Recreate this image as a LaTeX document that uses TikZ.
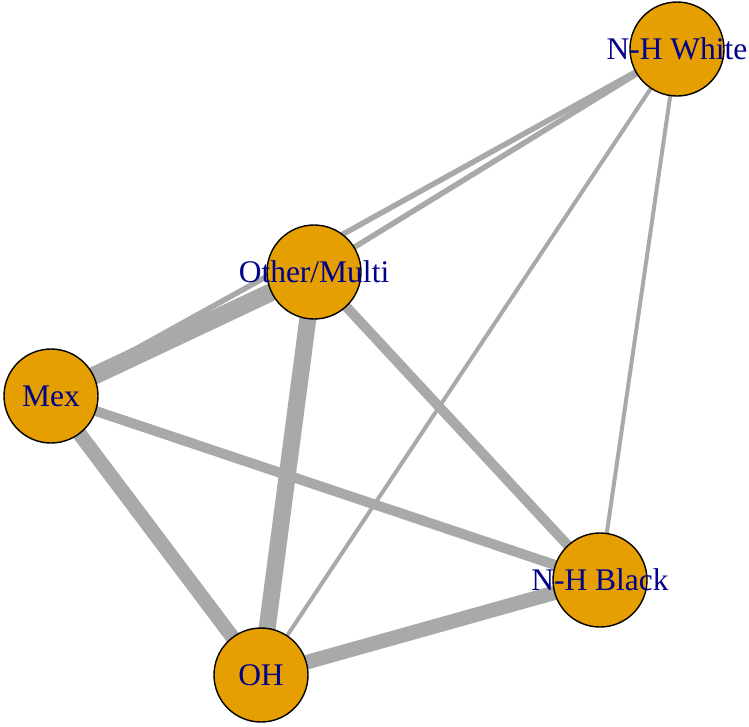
\documentclass[tikz,border=0pt]{standalone}
\usepackage{fontspec}
\setmainfont{Liberation Serif}
\usetikzlibrary{backgrounds}
\definecolor{nodefill}{HTML}{E69F00}
\definecolor{edgegray}{HTML}{A9A9A9}
\definecolor{labelblue}{HTML}{00008B}
\newcommand{\nolabelwidth}[1]{\makebox[0pt][c]{#1}}
\begin{document}
\begin{tikzpicture}[x=1pt,y=1pt,
  vertex/.style={circle,draw=black,line width=1.4pt,fill=nodefill,minimum size=94pt,inner sep=0pt,
    text=labelblue,font=\fontsize{31.5}{31.5}\selectfont},
  edge/.style={draw=edgegray,line cap=butt}]
\useasboundingbox (0,0) rectangle (749,-726);
\node[vertex] (nhw) at (677,-49) {\nolabelwidth{N-H White}};
\node[vertex] (oth) at (314,-272) {\nolabelwidth{Other/Multi}};
\node[vertex] (mex) at (51,-396) {\nolabelwidth{Mex}};
\node[vertex] (nhb) at (600,-580) {\nolabelwidth{N-H Black}};
\node[vertex] (oh) at (261,-675) {\nolabelwidth{OH}};
\begin{pgfonlayer}{background}
\draw[edge,line width=18pt] (mex.center) -- (oth.center);
\draw[edge,line width=17pt] (oth.center) -- (oh.center);
\draw[edge,line width=14.5pt] (mex.center) -- (oh.center);
\draw[edge,line width=14.5pt] (oh.center) -- (nhb.center);
\draw[edge,line width=10pt] (oth.center) -- (nhb.center);
\draw[edge,line width=10pt] (mex.center) -- (nhb.center);
\draw[edge,line width=5.5pt] (mex.center) -- (nhw.center);
\draw[edge,line width=5.5pt] (oth.center) -- (nhw.center);
\draw[edge,line width=4pt] (oh.center) -- (nhw.center);
\draw[edge,line width=4pt] (nhb.center) -- (nhw.center);
\end{pgfonlayer}
\end{tikzpicture}
\end{document}
